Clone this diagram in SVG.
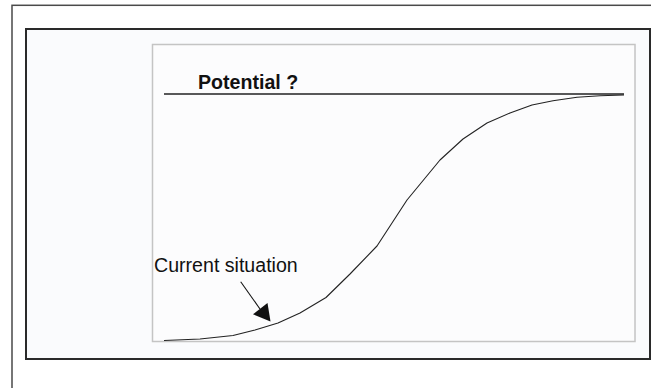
<svg xmlns="http://www.w3.org/2000/svg" width="651" height="388" viewBox="0 0 651 388">
<style>
.frame{fill:none;stroke:#4a4a4a;stroke-width:1.5}
.inner{fill:#fafbfd;stroke:#2a2a2a;stroke-width:2}
.box{fill:#fcfcfd;stroke:#c4c4c4;stroke-width:1.5}
.curve{fill:none;stroke:#222;stroke-width:1.1;stroke-linejoin:round}
.lbl{font-family:"Liberation Sans",Arial,sans-serif;font-size:19.6px;fill:#111}
</style>
<rect width="651" height="388" fill="#ffffff"/>
<g id="outer-frame"><rect class="frame" x="12" y="5.3" width="700" height="500"/></g>
<g id="inner-frame"><rect class="inner" x="26" y="29" width="624" height="330"/></g>
<g id="chart-box"><rect class="box" x="152.5" y="44.5" width="482.5" height="297"/></g>
<g id="potential">
<line x1="164" y1="94" x2="624" y2="94" stroke="#222" stroke-width="1.3"/>
<text class="lbl" x="198" y="89.3" font-weight="bold">Potential ?</text>
</g>
<g id="s-curve">
<polyline class="curve" points="164,340.5 200,339 233,335.5 255,330 278,323 300,313 326,297.5 350,274 377,246 407,200 440,160 463,139 487,123 510,113 532,105 553,100.7 577,97.3 600,95.8 624,95"/>
</g>
<g id="current-situation">
<text class="lbl" x="154" y="271.7">Current situation</text>
</g>
<g id="connectors">
<line x1="240.7" y1="281.7" x2="260" y2="309" stroke="#111" stroke-width="1.1"/>
<polygon points="270.5,321.5 253,314.3 267.5,303" fill="#111"/>
</g>
</svg>
